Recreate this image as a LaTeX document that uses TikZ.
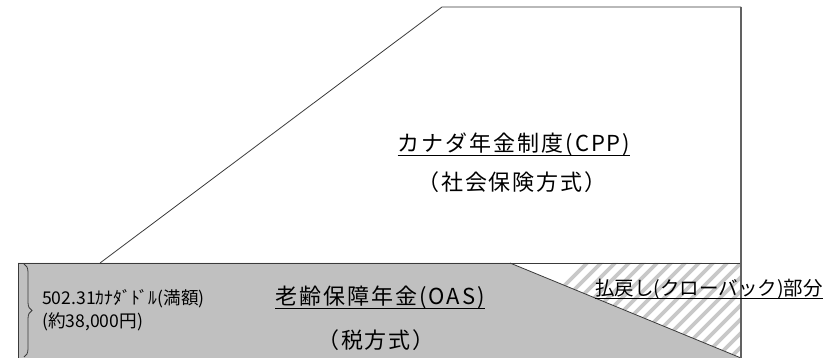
\documentclass[tikz,border=0pt]{standalone}
\usepackage{fontspec}
\setmainfont{Noto Sans CJK JP}
\newfontfamily\spacedjp[LetterSpace=9]{Noto Sans CJK JP}
\usetikzlibrary{decorations.pathreplacing}
\definecolor{oasgray}{HTML}{C0C0C0}
\definecolor{edgecol}{HTML}{3A3A3A}
\definecolor{hatchcol}{HTML}{C8C8C8}
\begin{document}
\begin{tikzpicture}[x=1pt,y=-1pt,
  outline/.style={draw=edgecol,line width=0.8pt},
  rightedge/.style={draw=edgecol!80,line width=1.6pt},
  uline/.style={draw=black,line width=0.9pt},
  bigtext/.style={inner sep=0pt,anchor=base,font=\spacedjp\fontsize{22}{26}\selectfont},
  midtext/.style={inner sep=0pt,anchor=base west,font=\fontsize{19.5}{23}\selectfont},
  smalltext/.style={inner sep=0pt,anchor=base west,font=\fontsize{17.6}{20}\selectfont}]
\useasboundingbox (0,0) rectangle (836,358);
% key points
\coordinate (cppBL) at (100,263);
\coordinate (cppTL) at (442,7);
\coordinate (cppTR) at (741,7);
\coordinate (cppBR) at (741,263);
\coordinate (oasTL) at (18,263);
\coordinate (oasBL) at (18,362);
\coordinate (oasBR) at (741,362);
\coordinate (clawL) at (510,263);
\coordinate (clawB) at (741,358);
% OAS gray area
\fill[oasgray] (oasTL) -- (clawL) -- (clawB) -- (oasBR) -- (oasBL) -- cycle;
% hatched clawback triangle
\begin{scope}
  \clip (clawL) -- (cppBR) -- (clawB) -- cycle;
  \foreach \i in {0,...,30}
    \draw[hatchcol,line width=3.6pt] (480+\i*14,370) -- ++(130,-130);
\end{scope}
% outlines
\draw[outline] (cppBL) -- (cppTL) -- (cppTR);
\draw[outline] (oasTL) -- (cppBR);
\draw[outline] (oasTL) -- (oasBL);
\draw[outline] (clawL) -- (clawB);
\draw[rightedge] (cppTR) -- (oasBR);
% brace
\coordinate (brTop) at (24,264);
\coordinate (brBot) at (24,357);
\draw[edgecol,line width=0.8pt,decorate,decoration={brace,amplitude=8pt}] (brTop) -- (brBot);
% texts
\node[bigtext] (cpp) at (514,152) {カナダ年金制度(CPP)};
\draw[uline] ([yshift=-3.5pt]cpp.base west) -- ([yshift=-3.5pt]cpp.base east);
\node[bigtext] (cppsub) at (512,191) {（社会保険方式）};
\node[bigtext] (oas) at (380,305) {老齢保障年金(OAS)};
\draw[uline] ([yshift=-3.5pt]oas.base west) -- ([yshift=-3.5pt]oas.base east);
\node[bigtext] (oassub) at (376,348.5) {（税方式）};
\node[midtext] (claw) at (595,295.5) {払戻し(クローバック)部分};
\draw[uline] ([yshift=-2.5pt]claw.base west) -- ([yshift=-2.5pt]claw.base east);
\node[smalltext] (amt1) at (42,305) {502.31ｶﾅﾀﾞﾄﾞﾙ(満額)};
\node[smalltext] (amt2) at (42,327) {(約38,000円)};
\end{tikzpicture}
\end{document}
